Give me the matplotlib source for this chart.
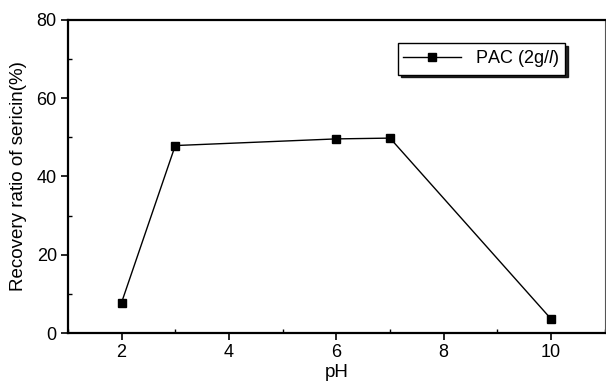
import matplotlib
matplotlib.use("Agg")
import matplotlib.pyplot as plt
from matplotlib.ticker import MultipleLocator

# data
ph = [2, 3, 6, 7, 10]
recovery = [7.8, 47.9, 49.6, 49.8, 3.6]
series_name = "PAC (2g/$\\it{l}$)"

plt.rcParams['font.family'] = ['Liberation Sans', 'DejaVu Sans']
plt.rcParams['mathtext.fontset'] = 'custom'
plt.rcParams['mathtext.it'] = 'Liberation Sans:italic'

fig = plt.figure(figsize=(6.06, 3.82), dpi=100)
ax = fig.add_axes([0.112, 0.128, 0.886, 0.82])

ax.plot(ph, recovery, color='black', lw=1.0, marker='s', markersize=6,
        label=series_name)

ax.set_xlim(1, 11)
ax.set_ylim(0, 80)
ax.xaxis.set_major_locator(MultipleLocator(2))
ax.xaxis.set_minor_locator(MultipleLocator(1))
ax.yaxis.set_major_locator(MultipleLocator(20))
ax.yaxis.set_minor_locator(MultipleLocator(10))
ax.tick_params(which='major', direction='out', length=5, width=1.2, labelsize=13, pad=3)
ax.tick_params(which='minor', direction='in', length=3, width=1)

ax.set_xlabel("pH", fontsize=13.5, labelpad=2)
ax.set_ylabel("Recovery ratio of sericin(%)", fontsize=13.5, labelpad=7)

for side in ['left', 'bottom', 'top']:
    ax.spines[side].set_linewidth(1.6)
ax.spines['right'].set_linewidth(0.8)
ax.spines['right'].set_color('#555555')

leg = ax.legend(loc='center', bbox_to_anchor=(0.77, 0.876), fontsize=13,
                fancybox=False, shadow={'color': 'black', 'alpha': 0.85},
                framealpha=1, edgecolor='black',
                handlelength=3.2, handletextpad=0.8, borderpad=0.3,
                borderaxespad=0)
leg.get_frame().set_linewidth(1.0)

fig.savefig("out.png", dpi=100)
